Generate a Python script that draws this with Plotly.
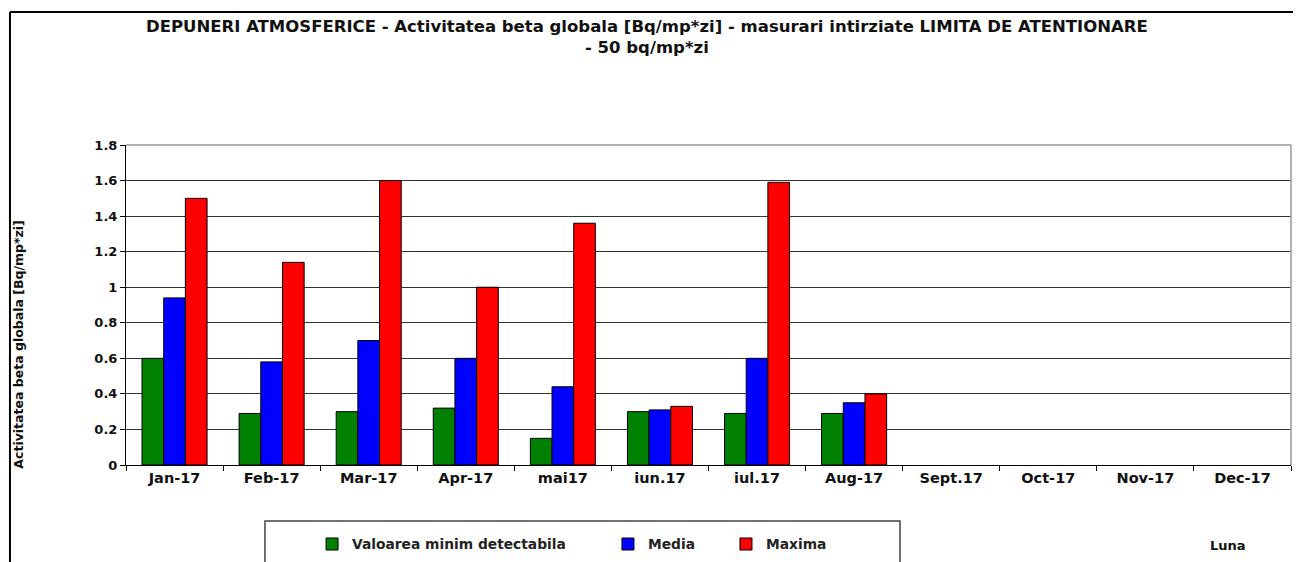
import plotly.graph_objects as go

luni = ["Jan-17", "Feb-17", "Mar-17", "Apr-17", "mai17", "iun.17",
        "iul.17", "Aug-17", "Sept.17", "Oct-17", "Nov-17", "Dec-17"]
minim_detectabila = [0.60, 0.29, 0.30, 0.32, 0.15, 0.30, 0.29, 0.29, None, None, None, None]
media = [0.94, 0.58, 0.70, 0.60, 0.44, 0.31, 0.60, 0.35, None, None, None, None]
maxima = [1.50, 1.14, 1.60, 1.00, 1.36, 0.33, 1.59, 0.40, None, None, None, None]

FONT = "DejaVu Sans, Arial, sans-serif"

fig = go.Figure()
fig.add_trace(go.Bar(x=luni, y=minim_detectabila, name="Valoarea minim detectabila",
                     marker=dict(color="#008000", line=dict(color="black", width=1)),
                     legend="legend"))
fig.add_trace(go.Bar(x=luni, y=media, name="Media",
                     marker=dict(color="#0000FF", line=dict(color="black", width=1)),
                     legend="legend2"))
fig.add_trace(go.Bar(x=luni, y=maxima, name="Maxima",
                     marker=dict(color="#FF0000", line=dict(color="black", width=1)),
                     legend="legend3"))

leg = dict(orientation="h", yanchor="middle", y=-0.247, xanchor="left",
           bgcolor="rgba(0,0,0,0)", itemwidth=30, visible=True,
           font=dict(family=FONT, size=13.8, color="#222", weight="bold"))

fig.update_layout(
    width=1301, height=562,
    margin=dict(l=118, r=18, t=137, b=105, autoexpand=False),
    showlegend=True,
    paper_bgcolor="white", plot_bgcolor="white",
    barmode="group", bargap=0.33, bargroupgap=0,
    font=dict(family=FONT, size=13, color="black"),
    legend=dict(leg, x=0.1597),
    legend2=dict(leg, x=0.4137),
    legend3=dict(leg, x=0.515),
    xaxis=dict(showline=True, linecolor="black", linewidth=1,
               ticks="outside", tickson="boundaries", ticklen=5, tickcolor="black",
               tickfont=dict(family=FONT, size=14.5, color="#111", weight="bold"),
               showgrid=False),
    yaxis=dict(range=[0, 1.8], dtick=0.2, showline=True, linecolor="black", linewidth=1,
               ticks="outside", ticklen=5, tickcolor="black",
               tickfont=dict(family=FONT, size=13, color="#111", weight="bold"),
               showgrid=True, gridcolor="#333", gridwidth=1, zeroline=False),
    shapes=[
        # chenar exterior
        dict(type="line", xref="paper", yref="paper", x0=-0.0996, x1=-0.0996, y0=1.4156, y1=-0.4,
             line=dict(color="black", width=2)),
        dict(type="line", xref="paper", yref="paper", x0=-0.0996, x1=1.02, y0=1.4156, y1=1.4156,
             line=dict(color="black", width=2)),
        # margine dreapta / sus zona grafic
        dict(type="line", xref="paper", yref="paper", x0=1, x1=1, y0=0, y1=1,
             line=dict(color="#999", width=1.5)),
        dict(type="line", xref="paper", yref="paper", x0=0, x1=1, y0=1, y1=1,
             line=dict(color="#999", width=1.5)),
        # chenar legenda
        dict(type="rect", xref="paper", yref="paper", x0=0.1193, x1=0.6644, y0=-0.175, y1=-0.45,
             line=dict(color="#444", width=1.5)),
    ],
    annotations=[
        dict(text="<b>DEPUNERI ATMOSFERICE - Activitatea beta globala [Bq/mp*zi] - masurari intirziate LIMITA DE ATENTIONARE<br>- 50 bq/mp*zi</b>",
             xref="paper", yref="paper", x=0.4476, y=1.336, xanchor="center", yanchor="middle",
             showarrow=False, font=dict(family=FONT, size=16.5, color="#111")),
        dict(text="<b>Activitatea beta globala [Bq/mp*zi]</b>", textangle=-90,
             xref="paper", yref="paper", x=-0.093, y=0.375, xanchor="center", yanchor="middle",
             showarrow=False, font=dict(family=FONT, size=12.5, color="#111")),
        dict(text="<b>Luna</b>", xref="paper", yref="paper", x=0.946, y=-0.25,
             xanchor="center", yanchor="middle", showarrow=False,
             font=dict(family=FONT, size=13, color="#111")),
    ],
)

fig.write_html("out.html")
